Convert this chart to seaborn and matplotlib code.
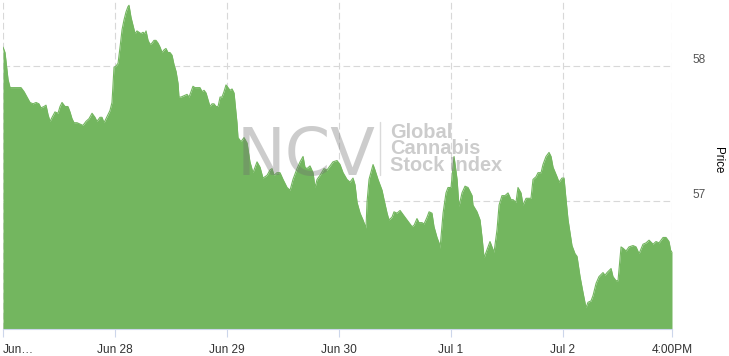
import numpy as np
import pandas as pd
import matplotlib
matplotlib.use("Agg")
import matplotlib.pyplot as plt
import seaborn as sns

# time in trading days since the first tick (Jun 27), price
day_pos = [0.000, 0.018, 0.045, 0.063, 0.080, 0.107, 0.134, 0.161, 0.188, 0.214,
           0.241, 0.268, 0.295, 0.321, 0.339, 0.366, 0.384, 0.402, 0.420, 0.438,
           0.464, 0.491, 0.509, 0.527, 0.554, 0.580, 0.598, 0.616, 0.634, 0.661,
           0.688, 0.714, 0.741, 0.768, 0.795, 0.821, 0.839, 0.866, 0.884, 0.902,
           0.920, 0.938, 0.955, 0.973, 0.991, 1.009, 1.027, 1.045, 1.063, 1.080,
           1.098, 1.116, 1.125, 1.143, 1.161, 1.179, 1.196, 1.214, 1.232, 1.250,
           1.268, 1.277, 1.295, 1.313, 1.330, 1.348, 1.366, 1.384, 1.402, 1.420,
           1.438, 1.455, 1.473, 1.491, 1.509, 1.527, 1.545, 1.563, 1.571, 1.589,
           1.616, 1.643, 1.661, 1.679, 1.696, 1.714, 1.732, 1.759, 1.777, 1.795,
           1.813, 1.830, 1.848, 1.866, 1.884, 1.902, 1.920, 1.938, 1.955, 1.973,
           1.991, 2.009, 2.027, 2.045, 2.063, 2.071, 2.089, 2.098, 2.125, 2.152,
           2.179, 2.205, 2.232, 2.268, 2.295, 2.321, 2.357, 2.384, 2.402, 2.420,
           2.446, 2.473, 2.500, 2.536, 2.563, 2.589, 2.625, 2.652, 2.679, 2.696,
           2.714, 2.741, 2.768, 2.786, 2.804, 2.830, 2.866, 2.893, 2.920, 2.946,
           2.982, 3.009, 3.036, 3.071, 3.098, 3.125, 3.143, 3.161, 3.188, 3.214,
           3.241, 3.250, 3.268, 3.304, 3.321, 3.348, 3.384, 3.402, 3.429, 3.446,
           3.473, 3.491, 3.518, 3.545, 3.571, 3.598, 3.625, 3.652, 3.670, 3.696,
           3.714, 3.741, 3.759, 3.786, 3.804, 3.830, 3.848, 3.875, 3.893, 3.902,
           3.929, 3.955, 3.973, 4.000, 4.027, 4.054, 4.071, 4.098, 4.125, 4.152,
           4.188, 4.196, 4.232, 4.259, 4.277, 4.295, 4.321, 4.348, 4.366, 4.384,
           4.411, 4.429, 4.455, 4.482, 4.509, 4.536, 4.554, 4.580, 4.598, 4.625,
           4.643, 4.670, 4.688, 4.714, 4.732, 4.759, 4.777, 4.804, 4.821, 4.848,
           4.875, 4.893, 4.911, 4.946, 4.964, 4.991, 5.009, 5.027, 5.045, 5.080,
           5.107, 5.125, 5.152, 5.179, 5.205, 5.223, 5.250, 5.268, 5.295, 5.321,
           5.357, 5.375, 5.393, 5.429, 5.446, 5.473, 5.491, 5.518, 5.536, 5.563,
           5.589, 5.625, 5.652, 5.679, 5.714, 5.741, 5.768, 5.804, 5.830, 5.857,
           5.893, 5.920, 5.946, 5.964, 5.973]
price = [58.14, 58.10, 57.90, 57.84, 57.84, 57.84, 57.84, 57.84, 57.81, 57.77,
         57.73, 57.72, 57.73, 57.72, 57.69, 57.70, 57.71, 57.64, 57.59, 57.62,
         57.66, 57.65, 57.70, 57.73, 57.70, 57.70, 57.66, 57.61, 57.58, 57.58,
         57.57, 57.56, 57.59, 57.61, 57.65, 57.62, 57.59, 57.62, 57.62, 57.58,
         57.61, 57.64, 57.67, 57.73, 57.99, 58.00, 58.02, 58.14, 58.27, 58.34,
         58.40, 58.44, 58.45, 58.36, 58.30, 58.24, 58.26, 58.25, 58.24, 58.25,
         58.24, 58.26, 58.19, 58.16, 58.17, 58.19, 58.19, 58.17, 58.14, 58.10,
         58.12, 58.13, 58.10, 58.10, 58.08, 58.01, 57.96, 57.87, 57.77, 57.77,
         57.78, 57.79, 57.77, 57.81, 57.85, 57.84, 57.84, 57.84, 57.81, 57.82,
         57.80, 57.75, 57.70, 57.72, 57.72, 57.70, 57.70, 57.77, 57.77, 57.81,
         57.86, 57.84, 57.82, 57.83, 57.80, 57.73, 57.58, 57.47, 57.44, 57.47,
         57.43, 57.29, 57.21, 57.29, 57.25, 57.17, 57.19, 57.23, 57.24, 57.19,
         57.21, 57.21, 57.16, 57.10, 57.08, 57.16, 57.24, 57.29, 57.33, 57.25,
         57.24, 57.26, 57.21, 57.10, 57.16, 57.19, 57.24, 57.23, 57.26, 57.29,
         57.30, 57.27, 57.21, 57.16, 57.14, 57.17, 57.12, 56.99, 56.91, 56.86,
         56.80, 56.99, 57.16, 57.27, 57.23, 57.16, 57.08, 57.01, 56.91, 56.86,
         56.88, 56.92, 56.91, 56.93, 56.90, 56.87, 56.84, 56.81, 56.82, 56.87,
         56.84, 56.84, 56.83, 56.88, 56.92, 56.91, 56.81, 56.73, 56.69, 56.65,
         56.91, 57.06, 57.10, 57.10, 57.33, 57.16, 56.96, 57.06, 57.11, 57.10,
         57.04, 56.97, 56.92, 56.86, 56.73, 56.58, 56.64, 56.70, 56.66, 56.62,
         56.79, 56.97, 57.04, 57.04, 57.06, 57.01, 57.01, 56.99, 57.10, 57.06,
         56.97, 57.02, 57.02, 57.02, 57.16, 57.18, 57.21, 57.21, 57.27, 57.33,
         57.36, 57.33, 57.25, 57.18, 57.14, 57.17, 57.17, 57.01, 56.86, 56.67,
         56.61, 56.59, 56.44, 56.32, 56.21, 56.25, 56.26, 56.30, 56.39, 56.44,
         56.47, 56.45, 56.47, 56.50, 56.44, 56.41, 56.41, 56.66, 56.65, 56.63,
         56.66, 56.67, 56.66, 56.61, 56.68, 56.69, 56.71, 56.68, 56.70, 56.69,
         56.73, 56.73, 56.70, 56.62, 56.63]

tick_pos = [0, 1, 2, 3, 4, 5, 5.973]
tick_labels = ["Jun\u2026", "Jun 28", "Jun 29", "Jun 30", "Jul 1", "Jul 2", "4:00PM"]
price_ticks = [57, 58]

df = pd.DataFrame({"t": day_pos, "price": price})

sns.set_theme(style="white")
plt.rcParams["font.family"] = ["Liberation Sans", "DejaVu Sans"]

green = "#73b65f"
grid_c = "#d8d8d8"

fig = plt.figure(figsize=(7.29, 3.56), dpi=100)
ax = fig.add_axes([3 / 729, 27 / 356, 669 / 729, 329 / 356])

base = 56.052
ax.fill_between(df["t"], df["price"], base, color=green, lw=0, zorder=3)
sns.lineplot(data=df, x="t", y="price", color=green, lw=0.8, ax=ax, zorder=3)

ax.set_xlim(0, 5.973)
ax.set_ylim(base, 58.489)

# dashed grid behind the area
for x in tick_pos:
    ax.axvline(x, color=grid_c, lw=0.8, ls=(0, (6, 3)), zorder=1)
for y in price_ticks:
    ax.axhline(y, color=grid_c, lw=0.8, ls=(0, (6, 3)), zorder=1)

for s in ["top", "left", "right"]:
    ax.spines[s].set_visible(False)
ax.spines["bottom"].set_color("#ccd6eb")
ax.spines["bottom"].set_linewidth(0.8)
ax.spines["bottom"].set_zorder(4)

ax.set_xticks(tick_pos)
ax.set_xticklabels(tick_labels, fontsize=8.6, color="#333333")
ax.tick_params(axis="x", bottom=True, length=6, width=0.8, color="#ccd6eb", pad=5)
ax.get_xticklabels()[0].set_horizontalalignment("left")

ax.yaxis.tick_right()
ax.set_yticks(price_ticks)
ax.set_yticklabels([str(v) for v in price_ticks], fontsize=8.6, color="#555555")
ax.tick_params(axis="y", right=False, length=0, pad=15)
for lab in ax.get_yticklabels():
    lab.set_verticalalignment("bottom")
ax.set_xlabel("")
ax.set_ylabel("")

fig.text(718 / 729, 1 - 160 / 356, "Price", rotation=270, ha="center", va="center",
         fontsize=8.3, color="black")

# watermark
fig.text(237 / 729, 1 - 175 / 356, "NCV", fontsize=47, family="Liberation Sans Narrow",
         color="#6e6e6e", alpha=0.35, ha="left", va="baseline", zorder=5)
fig.add_artist(plt.Line2D([380 / 729, 380 / 729], [1 - 122 / 356, 1 - 175 / 356],
                          color="#6e6e6e", alpha=0.25, lw=1))
fig.text(390 / 729, 1 - 175 / 356, "Global\nCannabis\nStock Index", fontsize=14.4,
         fontweight="bold", color="#6e6e6e", alpha=0.35, ha="left", va="bottom",
         linespacing=0.85, zorder=5)

fig.savefig("out.png", dpi=100)
